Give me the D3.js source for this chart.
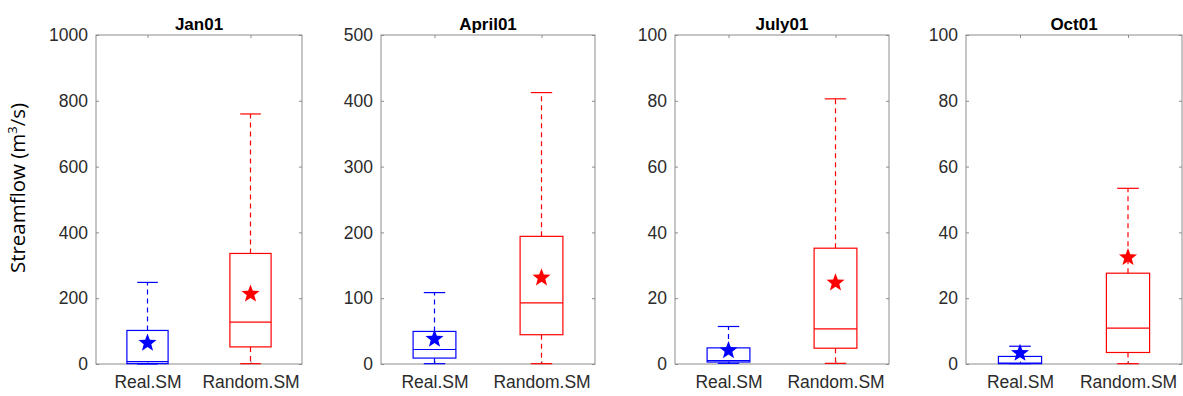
<!DOCTYPE html>
<html>
<head>
<meta charset="utf-8">
<script src="https://cdn.jsdelivr.net/npm/d3@7"></script>
<style>
  html, body { margin: 0; padding: 0; background: #fff; }
  svg { display: block; }
</style>
</head>
<body>
<svg id="chart" width="1183" height="396"></svg>
<script>
// Streamflow box-plot summaries for four dates, two soil-moisture setups.
const panelTitles = ["Jan01", "April01", "July01", "Oct01"];
const groups = ["Real.SM", "Random.SM"];
const groupColors = ["#0000ff", "#ff0000"];
const yMax = [1000, 500, 100, 100];
const yTicks = [
  [0, 200, 400, 600, 800, 1000],
  [0, 100, 200, 300, 400, 500],
  [0, 20, 40, 60, 80, 100],
  [0, 20, 40, 60, 80, 100]
];

// [lower whisker, Q1, median, Q3, upper whisker] per panel, per group
const realStats = [
  [0, 1, 7, 102, 248],
  [0.5, 9, 22, 49.5, 108.5],
  [0.2, 0.6, 1.0, 4.9, 11.4],
  [0.1, 0.1, 0.3, 2.3, 5.4]
];
const randomStats = [
  [1, 52, 127, 336, 760],
  [0.5, 44.5, 93, 194, 412.5],
  [0.2, 4.8, 10.7, 35.2, 80.6],
  [0.1, 3.5, 10.9, 27.6, 53.4]
];
// Mean values shown as stars
const realMeans = [64, 38, 4.1, 3.3];
const randomMeans = [213, 131, 24.7, 32.4];

// Axes layout (pixel edges of each panel)
const panelLeft = [96, 381, 675, 966];
const panelRight = [302, 595, 889, 1182];
const plotTop = 35, plotBottom = 364;

const svg = d3.select("#chart");
const axisColor = "#8c8c8c";
const textColor = "#2b2b2b";
const tickFont = "Liberation Sans, Arial, Helvetica, sans-serif";

function starPath(r) {
  const inner = r * 0.42;
  const pts = [];
  for (let i = 0; i < 10; i++) {
    const rad = i % 2 === 0 ? r : inner;
    const a = -Math.PI / 2 + i * Math.PI / 5;
    pts.push([rad * Math.cos(a), rad * Math.sin(a)]);
  }
  return "M" + pts.map(p => p[0].toFixed(2) + "," + p[1].toFixed(2)).join("L") + "Z";
}

panelTitles.forEach((title, pi) => {
  const x = d3.scaleLinear().domain([0.5, 2.5]).range([panelLeft[pi], panelRight[pi]]);
  const y = d3.scaleLinear().domain([0, yMax[pi]]).range([plotBottom, plotTop]);
  const g = svg.append("g");

  // Box frame
  g.append("rect")
    .attr("x", x(0.5)).attr("y", y(yMax[pi]))
    .attr("width", x(2.5) - x(0.5)).attr("height", y(0) - y(yMax[pi]))
    .attr("fill", "none").attr("stroke", axisColor).attr("stroke-width", 1);

  // Left axis with labels (ticks point inward)
  const left = d3.axisLeft(y).tickValues(yTicks[pi]).tickFormat(d3.format("d"))
    .tickSizeInner(-3).tickSizeOuter(0).tickPadding(8);
  const la = g.append("g").attr("transform", `translate(${x(0.5)},0)`).call(left);
  la.select(".domain").remove();
  la.selectAll("line").attr("stroke", axisColor);
  la.selectAll("text").attr("fill", textColor).style("font-family", tickFont).style("font-size", "17.5px");

  // Right axis ticks only
  const right = d3.axisRight(y).tickValues(yTicks[pi]).tickSizeInner(-3).tickSizeOuter(0).tickFormat("");
  const ra = g.append("g").attr("transform", `translate(${x(2.5)},0)`).call(right);
  ra.select(".domain").remove();
  ra.selectAll("line").attr("stroke", axisColor);

  // Bottom axis with group labels
  const bottomAxis = d3.axisBottom(x).tickValues([1, 2]).tickFormat((d) => groups[d - 1])
    .tickSizeInner(-3).tickSizeOuter(0).tickPadding(12);
  const ba = g.append("g").attr("transform", `translate(0,${plotBottom})`).call(bottomAxis);
  ba.select(".domain").remove();
  ba.selectAll("line").attr("stroke", axisColor);
  ba.selectAll("text").attr("fill", textColor).style("font-family", tickFont).style("font-size", "17.5px");

  // Top ticks
  const topAxis = d3.axisTop(x).tickValues([1, 2]).tickFormat("").tickSizeInner(-3).tickSizeOuter(0);
  const ta = g.append("g").attr("transform", `translate(0,${plotTop})`).call(topAxis);
  ta.select(".domain").remove();
  ta.selectAll("line").attr("stroke", axisColor);

  // Title
  g.append("text")
    .attr("x", (x(0.5) + x(2.5)) / 2).attr("y", 30)
    .attr("text-anchor", "middle")
    .style("font-family", tickFont).style("font-size", "17px").style("font-weight", "bold")
    .attr("fill", "#000")
    .text(title);

  const stats = [realStats[pi], randomStats[pi]];
  const means = [realMeans[pi], randomMeans[pi]];
  const boxHalf = 0.2, capHalf = 0.1;

  stats.forEach((s, gi) => {
    const c = groupColors[gi];
    const pos = gi + 1;
    const [lo, q1, med, q3, hi] = s;
    const bg = g.append("g").attr("stroke", c).attr("fill", "none").attr("stroke-width", 1.2);

    // Whiskers
    bg.append("line").attr("x1", x(pos)).attr("x2", x(pos)).attr("y1", y(q3)).attr("y2", y(hi))
      .attr("stroke-dasharray", "5,4");
    bg.append("line").attr("x1", x(pos)).attr("x2", x(pos)).attr("y1", y(q1)).attr("y2", y(lo))
      .attr("stroke-dasharray", "5,4");
    // Caps
    [lo, hi].forEach(v => {
      bg.append("line").attr("x1", x(pos - capHalf)).attr("x2", x(pos + capHalf))
        .attr("y1", y(v)).attr("y2", y(v));
    });
    // Box
    bg.append("rect")
      .attr("x", x(pos - boxHalf)).attr("y", y(q3))
      .attr("width", x(pos + boxHalf) - x(pos - boxHalf))
      .attr("height", Math.max(0, y(q1) - y(q3)));
    // Median
    bg.append("line").attr("x1", x(pos - boxHalf)).attr("x2", x(pos + boxHalf))
      .attr("y1", y(med)).attr("y2", y(med));

    // Mean star
    g.append("path")
      .attr("d", starPath(9.5))
      .attr("transform", `translate(${x(pos)},${y(means[gi])})`)
      .attr("fill", c);
  });
});

// Shared y-axis label
svg.append("text")
  .attr("transform", "translate(25,188) rotate(-90)")
  .attr("text-anchor", "middle")
  .style("font-family", "'Open Sans', 'Noto Sans', sans-serif")
  .style("font-size", "20.5px")
  .attr("fill", "#000")
  .html('Streamflow (m<tspan dy="-8" font-size="13px">3</tspan><tspan dy="8">/s)</tspan>');
</script>
</body>
</html>
